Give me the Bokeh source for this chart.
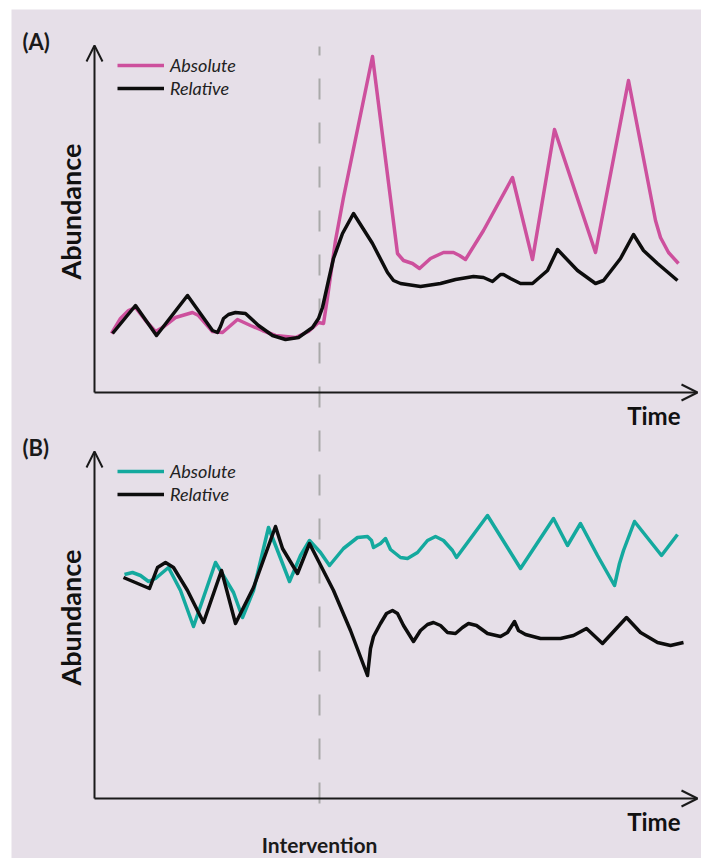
from math import pi
from bokeh.plotting import figure
from bokeh.models import Range1d, Label, Arrow, OpenHead, Legend, LegendItem
from bokeh.embed import file_html
from bokeh.resources import INLINE

# ---------------- data (time in arbitrary units, abundance in arbitrary units) -------------
# Panel A
a_abs_time = [17, 26, 34, 41, 51, 61, 68, 81, 98, 104, 118, 128, 143, 156, 168, 181, 201, 214,
              224, 229, 233, 241, 249, 278, 303, 309, 318, 325, 336, 349, 359, 365, 371, 389,
              418, 438, 460, 501, 534, 561, 566, 574, 584]
a_abs_val = [59, 74, 82, 85, 72, 61, 65, 75, 80, 77, 61, 60, 73, 67, 62, 57, 55, 61,
             70, 69, 95, 152, 195, 336, 139, 132, 129, 124, 134, 140, 140, 137, 133, 162,
             215, 133, 263, 140, 312, 172, 155, 140, 129]
a_rel_time = [18, 41, 62, 93, 118, 123, 126, 129, 134, 141, 151, 164, 178, 191, 204, 218, 224,
              228, 234, 239, 248, 259, 278, 293, 299, 306, 326, 346, 361, 379, 389, 398, 406,
              409, 416, 426, 438, 453, 463, 483, 501, 509, 526, 539, 549, 563, 583]
a_rel_val = [59, 87, 57, 97, 62, 60, 66, 74, 78, 80, 79, 67, 57, 53, 55, 65, 74,
             85, 112, 134, 159, 179, 149, 120, 112, 109, 106, 109, 113, 116, 115, 111, 118,
             118, 114, 109, 109, 122, 143, 122, 109, 112, 134, 158, 142, 129, 112]
# Panel B
b_abs_time = [30, 38, 46, 54, 61, 74, 86, 99, 121, 139, 148, 159, 174, 183, 195, 206, 215, 226,
              235, 249, 263, 273, 277, 279, 286, 291, 296, 306, 313, 323, 333, 341, 349, 358,
              362, 393, 426, 459, 473, 486, 503, 520, 525, 529, 540, 567, 583]
b_abs_val = [224, 226, 223, 217, 220, 231, 208, 172, 236, 206, 181, 208, 271, 248, 217, 243, 258, 246,
             233, 250, 261, 262, 258, 251, 255, 260, 249, 241, 240, 246, 258, 262, 258, 248,
             241, 283, 230, 280, 253, 275, 243, 213, 235, 248, 277, 243, 264]
b_rel_time = [29, 55, 63, 71, 79, 93, 109, 127, 141, 159, 181, 188, 203, 215, 239, 256, 273, 276,
              279, 286, 292, 298, 303, 309, 319, 326, 333, 339, 346, 353, 361, 368, 374, 382,
              393, 406, 413, 420, 424, 431, 446, 466, 479, 492, 508, 532, 546, 563, 576, 589]
b_rel_val = [221, 210, 231, 236, 231, 208, 176, 228, 175, 211, 272, 250, 225, 255, 208, 168, 123, 150,
             162, 175, 185, 188, 185, 173, 157, 168, 174, 176, 173, 166, 165, 171, 175, 173,
             165, 162, 166, 177, 168, 164, 160, 160, 163, 170, 155, 181, 166, 156, 153, 156]

intervention_time = 225
series_labels = ["Absolute", "Relative"]
panel_titles = ["(A)", "(B)"]

# ---------------- style ----------------
BG = "#e6dfe8"
PINK = "#cd509d"
TEAL = "#14a99e"
BLACK = "#0d0d0d"
AXIS = "#1a1a1a"
DASH = "#a9a9a9"
FONT = "Lato"

p = figure(width=701, height=858, x_range=Range1d(-83, 607), y_range=Range1d(-466, 383),
           output_backend="svg", toolbar_location=None,
           min_border_left=11, min_border_top=9, min_border_right=0, min_border_bottom=0,
           x_axis_location=None, y_axis_location=None)
p.extra_y_ranges = {"b": Range1d(-60, 789)}
p.grid.visible = False
p.outline_line_color = None
p.background_fill_color = BG
p.border_fill_color = "white"

# intervention dashed line spanning both panels
p.line([intervention_time, intervention_time], [346, -431], line_color=DASH, line_width=2,
       line_dash="21 23", line_dash_offset=12)

# axes as arrows
for rng in ["default", "b"]:
    p.add_layout(Arrow(end=OpenHead(size=16, line_width=2, line_color=AXIS),
                       x_start=0, y_start=0, x_end=0, y_end=347,
                       line_width=2, line_color=AXIS, y_range_name=rng))
    p.add_layout(Arrow(end=OpenHead(size=16, line_width=2, line_color=AXIS),
                       x_start=0, y_start=0, x_end=603, y_end=0,
                       line_width=2, line_color=AXIS, y_range_name=rng))

# series
r_a_abs = p.line(a_abs_time, a_abs_val, line_color=PINK, line_width=3.5, line_join="round")
r_a_rel = p.line(a_rel_time, a_rel_val, line_color=BLACK, line_width=3.5, line_join="round")
r_b_abs = p.line(b_abs_time, b_abs_val, line_color=TEAL, line_width=3.5, line_join="round",
                 y_range_name="b")
r_b_rel = p.line(b_rel_time, b_rel_val, line_color=BLACK, line_width=3.5, line_join="round",
                 y_range_name="b")

# legends
def make_legend(rs, loc):
    return Legend(items=[LegendItem(label=series_labels[0], renderers=[rs[0]]),
                         LegendItem(label=series_labels[1], renderers=[rs[1]])],
                  location=loc, padding=0, margin=0, spacing=1,
                  glyph_width=47, glyph_height=20, label_height=20, label_standoff=6,
                  label_text_font=FONT, label_text_font_style="italic",
                  label_text_font_size="18px", label_text_color="#222222",
                  background_fill_alpha=0, border_line_color=None)

p.add_layout(make_legend([r_a_abs, r_a_rel], (106, 759)))
p.add_layout(make_legend([r_b_abs, r_b_rel], (106, 353)))

# texts
for rng, title in zip(["default", "b"], panel_titles):
    p.add_layout(Label(x=-72, y=351, text=title, text_font=FONT, text_font_size="22px",
                       text_font_style="bold", text_baseline="middle", text_align="left",
                       text_color="#1a1a1a", y_range_name=rng))
    p.add_layout(Label(x=-24, y=181, text="Abundance", angle=pi / 2, text_font=FONT,
                       text_font_size="27px", text_font_style="bold", text_baseline="middle",
                       text_align="center", text_color="#111111", y_range_name=rng))
    p.add_layout(Label(x=586, y=-23, text="Time", text_font=FONT, text_font_size="24px",
                       text_font_style="bold", text_baseline="middle", text_align="right",
                       text_color="#111111", y_range_name=rng))

p.add_layout(Label(x=intervention_time, y=-46, text="Intervention", text_font=FONT,
                   text_font_size="21px", text_font_style="bold", text_baseline="middle",
                   text_align="center", text_color="#1a1a1a", y_range_name="b"))

open("out.html", "w").write(file_html(p, INLINE))
